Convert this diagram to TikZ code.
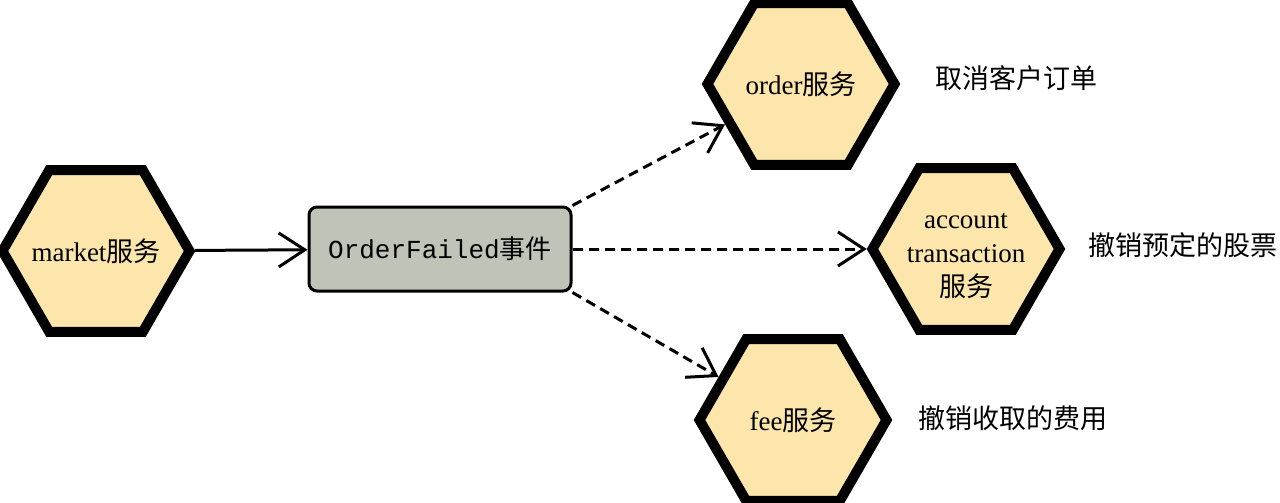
\documentclass[tikz,border=0pt]{standalone}
\usepackage{fontspec}
\setmainfont{Liberation Serif}
\setmonofont{Liberation Mono}
\newfontfamily\cjk{Noto Sans CJK SC}
\usetikzlibrary{shapes.geometric,arrows.meta}
\definecolor{hexfill}{RGB}{252,230,172}
\definecolor{boxfill}{RGB}{190,196,184}
\begin{document}
\begin{tikzpicture}[x=1pt,y=-1pt,
  hexnode/.style={regular polygon, regular polygon sides=6, draw=black, line width=10pt,
    fill=hexfill, minimum size=187pt, inner sep=0pt},
  hextext/.style={inner sep=0pt, align=center, font=\fontsize{27}{34}\selectfont},
  eventbox/.style={draw=black, line width=3pt, fill=boxfill, rounded corners=8pt,
    minimum width=262pt, minimum height=84pt, inner sep=0pt,
    font=\fontsize{26}{33}\selectfont},
  lbl/.style={anchor=west, inner sep=0pt, font=\fontsize{27}{34}\selectfont\cjk},
  conn/.style={line width=3pt, -{Straight Barb[length=26pt,width=34pt,line width=3pt]}},
  dconn/.style={conn, dash pattern=on 10pt off 6pt}]
\useasboundingbox (0,0) rectangle (1280,503);
\node[hexnode, label={[hextext]center:market{\cjk 服务}}] (market) at (96,251) {};
\node[hexnode, label={[hextext]center:order{\cjk 服务}}] (order) at (801,84) {};
\node[hexnode, label={[hextext,yshift=-7pt]center:account\\transaction\\{\cjk 服务}}] (account) at (966,249) {};
\node[hexnode, label={[hextext]center:fee{\cjk 服务}}] (fee) at (793,420) {};
\node[eventbox] (event) at (440,249) {\ttfamily OrderFailed{\cjk 事件}};
\node[lbl] (l1) at (935,78) {取消客户订单};
\node[lbl] (l2) at (1088,245) {撤销预定的股票};
\node[lbl] (l3) at (918,418) {撤销收取的费用};
\draw[conn] (market) -- (event);
\draw[dconn] (event.north east) -- (order);
\draw[dconn] (event.east) -- (account);
\draw[dconn] (event.south east) -- (fee);
\end{tikzpicture}
\end{document}
